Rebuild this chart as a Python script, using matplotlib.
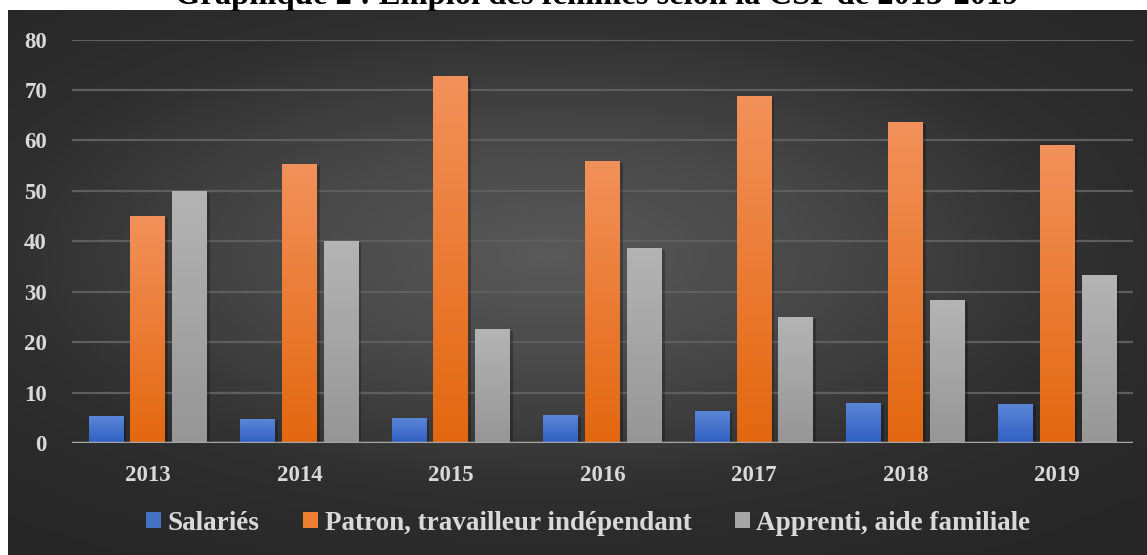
import matplotlib
matplotlib.use("Agg")
import matplotlib.pyplot as plt
import matplotlib.patheffects as pe
from matplotlib.colors import LinearSegmentedColormap
from matplotlib.patches import Patch
import numpy as np

plt.rcParams['font.family'] = ['Liberation Serif', 'DejaVu Serif']
plt.rcParams['font.weight'] = 'bold'

years = ['2013', '2014', '2015', '2016', '2017', '2018', '2019']
salaries = [5.3, 4.7, 5.0, 5.5, 6.3, 8.0, 7.7]
patrons = [45.0, 55.3, 72.7, 56.0, 68.8, 63.6, 59.0]
apprentis = [50.0, 40.0, 22.6, 38.7, 25.0, 28.3, 33.3]
series_names = ['Salariés', 'Patron, travailleur indépendant', 'Apprenti, aide familiale']

# (top colour, bottom colour) of each series gradient
grad_colors = [('#5b86d8', '#2f5fc0'), ('#f2915b', '#e3670f'), ('#b4b4b4', '#969696')]
mid_colors = ['#4472c4', '#ed7d31', '#a5a5a5']

fig = plt.figure(figsize=(11.47, 5.55), dpi=100)

# dark radial background, starting a little below the top / right of the left edge
bg = fig.add_axes([8 / 1147, 0, 1 - 8 / 1147, 1 - 10 / 555])
bg.set_axis_off()
yy, xx = np.mgrid[-1:1:300j, -1:1:600j]
r = np.sqrt(((xx + 0.05) / 1.1) ** 2 + ((yy + 0.1) / 1.0) ** 2)
bg_cmap = LinearSegmentedColormap.from_list('bg', ['#595959', '#474747', '#2e2e2e', '#262626'])
bg.imshow(r, cmap=bg_cmap, vmin=0, vmax=1.35, aspect='auto', extent=[0, 1, 0, 1])
bg.set_xlim(0, 1)
bg.set_ylim(0, 1)

# the title is cut at the top edge, as in the source image
fig.text(0.52, 1 - 4 / 555, 'Graphique 2 : Emploi des femmes selon la CSP de 2013-2019',
         ha='center', va='baseline', fontsize=23.5, fontweight='bold', color='black')

ax = fig.add_axes([72 / 1147, 1 - 443 / 555, (1133 - 72) / 1147, (443 - 39.5) / 555])
ax.patch.set_alpha(0)

x = np.arange(len(years))
width = 0.23
step = 0.276
data = [salaries, patrons, apprentis]

grad = np.linspace(1, 0, 256).reshape(-1, 1)
for i, vals in enumerate(data):
    cmap = LinearSegmentedColormap.from_list('g%d' % i, [grad_colors[i][1], grad_colors[i][0]])
    bars = ax.bar(x + (i - 1) * step, vals, width, color=mid_colors[i], zorder=3,
                  path_effects=[pe.SimplePatchShadow(offset=(2, -1.5), shadow_rgbFace='black', alpha=0.25),
                                pe.Normal()])
    for b in bars:
        x0 = b.get_x()
        h = b.get_height()
        im = ax.imshow(grad, cmap=cmap, vmin=0, vmax=1, aspect='auto',
                       extent=[x0, x0 + width, 0, h], zorder=3.5)
        im.set_clip_path(b)

ax.set_xlim(-0.5, len(years) - 0.5)
ax.set_ylim(0, 80)
ax.set_yticks(range(0, 81, 10))
ax.set_xticks(x)
ax.set_xticklabels(years)
ax.grid(axis='y', color='#5e5e5e', linewidth=1.6, zorder=1)
ax.axhline(0, color='#a6a6a6', linewidth=2.5, zorder=4)
for s in ax.spines.values():
    s.set_visible(False)
ax.tick_params(length=0, labelsize=16.5, colors='#d9d9d9')
ax.tick_params(axis='y', pad=18)
ax.tick_params(axis='x', pad=16)
for lab in ax.get_xticklabels() + ax.get_yticklabels():
    lab.set_fontweight('bold')

handles = [Patch(facecolor=mid_colors[i]) for i in range(3)]
leg = fig.legend(handles, series_names, loc='center', bbox_to_anchor=(0.513, 1 - 523 / 555),
                 ncol=3, frameon=False, fontsize=19.5, handlelength=0.55, handleheight=0.55,
                 handletextpad=0.25, columnspacing=1.6)
for t in leg.get_texts():
    t.set_color('#d9d9d9')
    t.set_fontweight('bold')

fig.savefig('out.png', dpi=100)
